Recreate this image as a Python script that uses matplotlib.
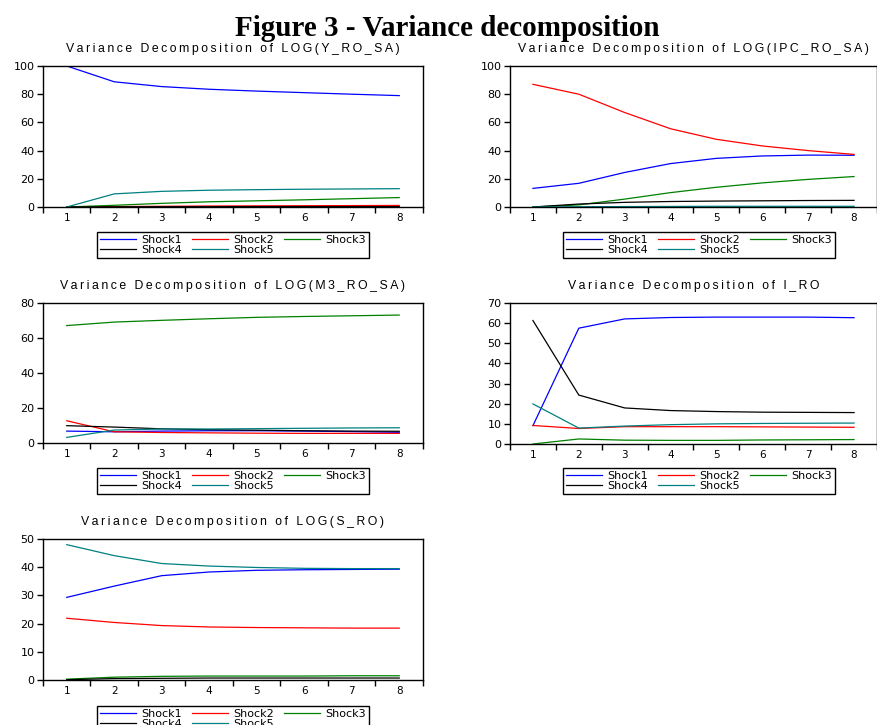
import matplotlib
matplotlib.use("Agg")
import matplotlib.pyplot as plt
import numpy as np

# horizon periods
periods = [1, 2, 3, 4, 5, 6, 7, 8]
shock_names = ["Shock1", "Shock2", "Shock3", "Shock4", "Shock5"]
shock_colors = ["#0000ff", "#ff0000", "#008000", "#000000", "#008080"]

# variance decomposition of LOG(Y_RO_SA)
y_s1 = [100, 88.8, 85.4, 83.5, 82.2, 81.1, 80.0, 79.0]
y_s2 = [0, 0.3, 0.5, 0.7, 0.8, 0.9, 1.0, 1.1]
y_s3 = [0, 1.2, 2.6, 3.7, 4.4, 5.1, 5.9, 6.7]
y_s4 = [0, 0.1, 0.2, 0.2, 0.3, 0.3, 0.3, 0.3]
y_s5 = [0, 9.3, 11.1, 11.9, 12.3, 12.6, 12.8, 13.0]

# variance decomposition of LOG(IPC_RO_SA)
ipc_s1 = [13.2, 16.8, 24.5, 30.8, 34.5, 36.2, 36.8, 36.7]
ipc_s2 = [87.0, 80.0, 67.0, 55.5, 48.0, 43.3, 40.0, 37.3]
ipc_s3 = [0, 1.5, 5.6, 10.2, 14.0, 17.1, 19.6, 21.6]
ipc_s4 = [0, 2.1, 3.3, 3.9, 4.2, 4.4, 4.6, 4.7]
ipc_s5 = [0, 0.2, 0.3, 0.4, 0.5, 0.5, 0.5, 0.5]

# variance decomposition of LOG(M3_RO_SA)
m3_s1 = [6.8, 6.4, 6.8, 7.0, 7.0, 6.8, 6.5, 6.1]
m3_s2 = [12.7, 6.4, 6.0, 5.8, 5.6, 5.5, 5.5, 5.5]
m3_s3 = [67.1, 69.1, 70.1, 71.0, 71.8, 72.3, 72.7, 73.1]
m3_s4 = [9.9, 9.1, 8.1, 7.6, 7.3, 7.0, 6.8, 6.7]
m3_s5 = [3.2, 7.4, 8.0, 8.0, 8.2, 8.4, 8.6, 8.7]

# variance decomposition of I_RO
i_s1 = [9.1, 57.5, 62.1, 62.8, 63.0, 63.0, 63.0, 62.7]
i_s2 = [9.2, 7.7, 8.6, 8.6, 8.6, 8.5, 8.4, 8.3]
i_s3 = [0, 2.5, 1.9, 1.8, 1.8, 2.0, 2.1, 2.2]
i_s4 = [61.3, 24.3, 17.9, 16.6, 16.1, 15.8, 15.7, 15.6]
i_s5 = [19.9, 7.9, 8.9, 9.6, 10.0, 10.2, 10.3, 10.4]

# variance decomposition of LOG(S_RO)
s_s1 = [29.3, 33.3, 37.0, 38.3, 38.9, 39.1, 39.2, 39.3]
s_s2 = [21.9, 20.4, 19.3, 18.8, 18.6, 18.5, 18.4, 18.4]
s_s3 = [0.3, 1.0, 1.3, 1.4, 1.4, 1.4, 1.5, 1.5]
s_s4 = [0.1, 0.5, 0.6, 0.7, 0.7, 0.7, 0.7, 0.7]
s_s5 = [48.0, 44.1, 41.3, 40.4, 39.9, 39.6, 39.5, 39.5]

titles = ["Variance Decomposition of LOG(Y_RO_SA)",
          "Variance Decomposition of LOG(IPC_RO_SA)",
          "Variance Decomposition of LOG(M3_RO_SA)",
          "Variance Decomposition of I_RO",
          "Variance Decomposition of LOG(S_RO)"]
y_tops = [100, 100, 80, 70, 50]
y_steps = [20, 20, 20, 10, 10]

series = [[y_s1, y_s2, y_s3, y_s4, y_s5],
          [ipc_s1, ipc_s2, ipc_s3, ipc_s4, ipc_s5],
          [m3_s1, m3_s2, m3_s3, m3_s4, m3_s5],
          [i_s1, i_s2, i_s3, i_s4, i_s5],
          [s_s1, s_s2, s_s3, s_s4, s_s5]]

W, H = 878, 725
# axes boxes in pixels: left, top, right, bottom
boxes = [(43, 66, 423, 207), (510, 66, 877, 207),
         (43, 303, 423, 443), (510, 303, 877, 444),
         (43, 539, 423, 680)]
# legend centers in pixels
leg_centers = [(233, 245), (699, 245), (233, 481), (699, 481), (233, 719)]

sans = ["Liberation Sans", "DejaVu Sans"]
plt.rcParams["font.family"] = sans

fig = plt.figure(figsize=(W / 100, H / 100), dpi=100)
fig.text(0.51, 1 - 36 / H, "Figure 3 - Variance decomposition",
         ha="center", va="baseline", fontsize=21, fontweight="bold",
         family=["Liberation Serif", "DejaVu Serif"])


def spaced(s):
    # EViews titles are letter-spaced
    return "\u2009".join(s)


for k in range(5):
    l, t, r, b = boxes[k]
    ax = fig.add_axes([l / W, 1 - b / H, (r - l) / W, (b - t) / H])
    lines = []
    for j in range(5):
        ln, = ax.plot(periods, series[k][j], color=shock_colors[j], lw=0.9,
                      label=shock_names[j])
        lines.append(ln)
    ax.set_xlim(0.5, 8.5)
    ax.set_ylim(0, y_tops[k])
    ax.set_yticks(np.arange(0, y_tops[k] + 1, y_steps[k]))
    ax.set_xticks(periods)
    ax.set_xticks(np.arange(0.5, 9, 1), minor=True)
    ax.tick_params(axis="x", which="major", length=0, pad=4, labelsize=7.5)
    ax.tick_params(axis="x", which="minor", length=4, width=1, direction="out")
    ax.tick_params(axis="y", length=4, width=1, direction="out", pad=2, labelsize=8)
    for lab in ax.get_xticklabels() + ax.get_yticklabels():
        lab.set_family("DejaVu Sans")
    for sp in ax.spines.values():
        sp.set_linewidth(1.0)
    ax.set_title(spaced(titles[k]), fontsize=8.8, pad=10)

    order = [0, 3, 1, 4, 2]
    cx, cy = leg_centers[k]
    leg = ax.legend([lines[i] for i in order], [shock_names[i] for i in order],
                    ncol=3, loc="center", bbox_to_anchor=(cx / W, 1 - cy / H),
                    bbox_transform=fig.transFigure,
                    prop={"family": "DejaVu Sans", "size": 8}, fancybox=False,
                    edgecolor="black", framealpha=1, handlelength=3.2,
                    labelspacing=0.0, borderpad=0.25, columnspacing=0.9,
                    handletextpad=0.5)
    leg.get_frame().set_linewidth(1.0)

fig.savefig("out.png", dpi=100)
